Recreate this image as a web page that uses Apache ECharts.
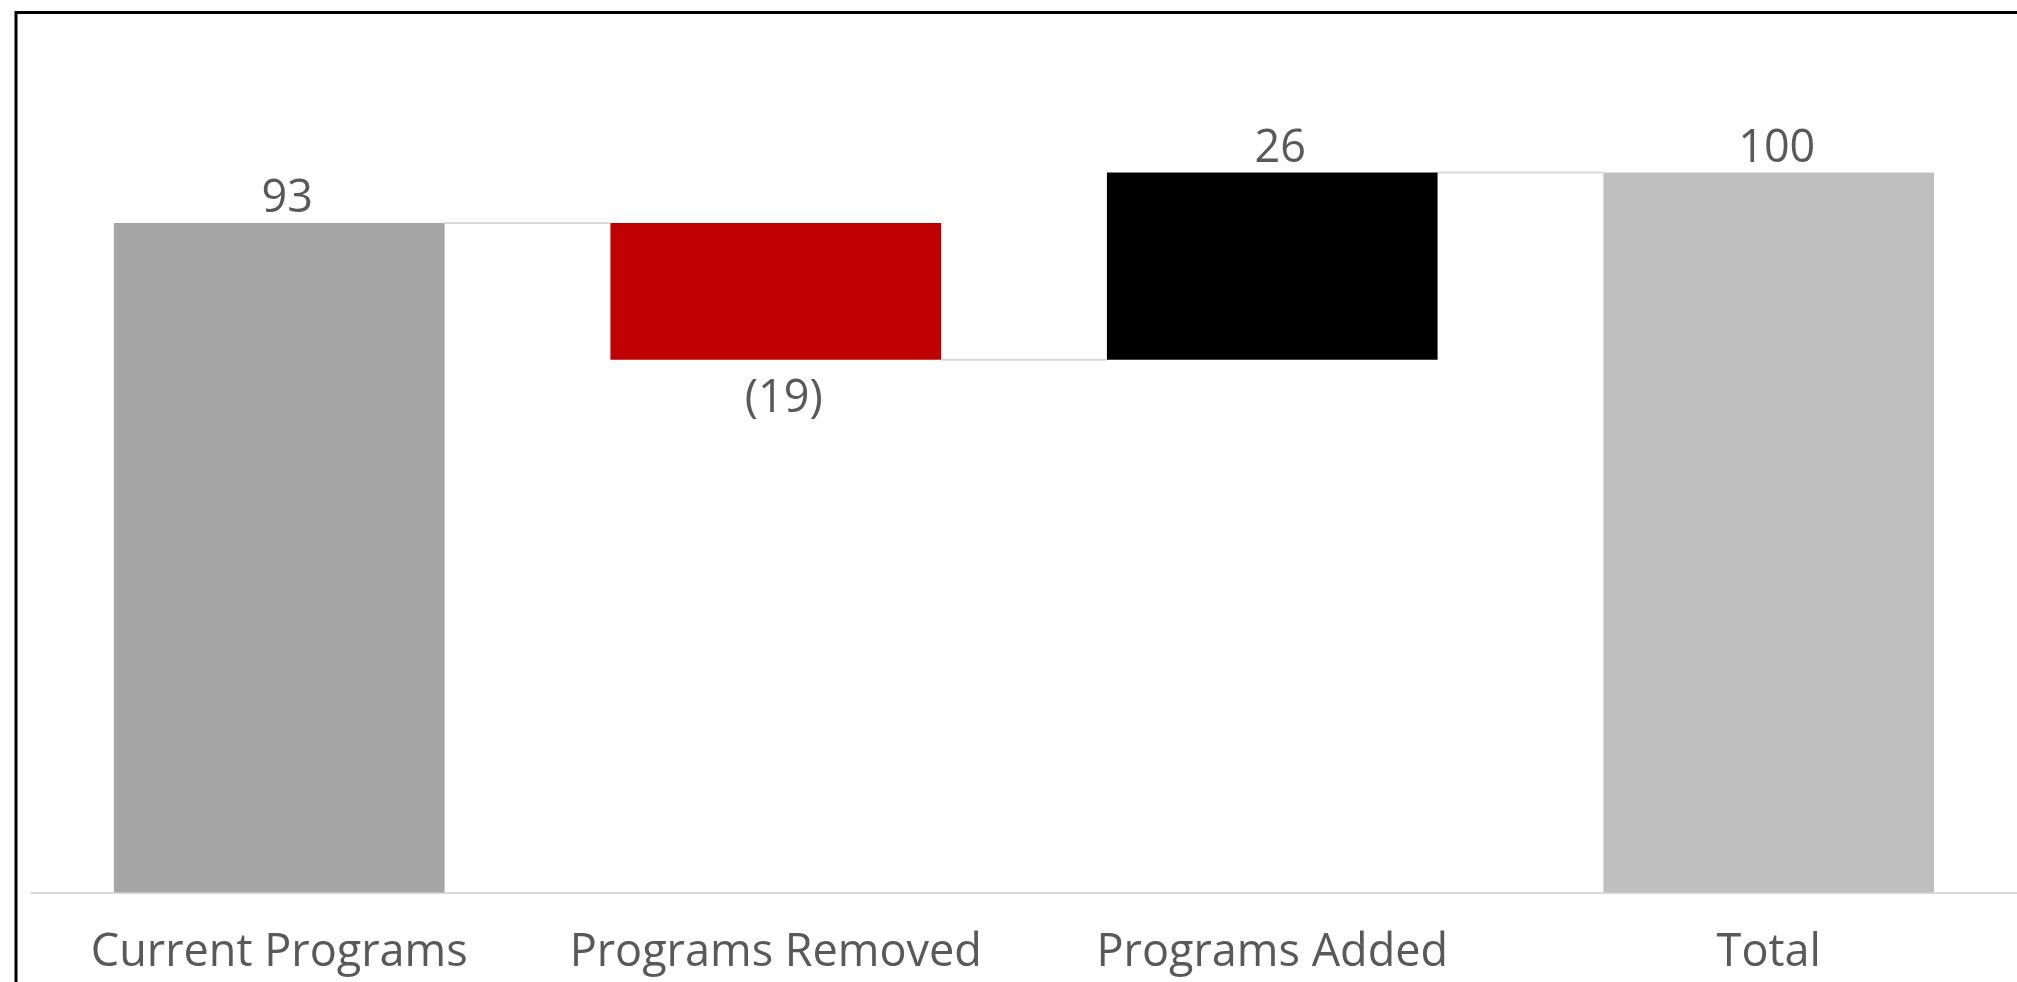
<!DOCTYPE html>
<html>
<head>
<meta charset="utf-8">
<script src="https://cdn.jsdelivr.net/npm/echarts@6/dist/echarts.min.js"></script>
<style>
html,body{margin:0;padding:0;background:#fff;}
#chart{width:2017px;height:982px;}
</style>
</head>
<body>
<div id="chart"></div>
<script>
const categories = ['Current Programs', 'Programs Removed', 'Programs Added', 'Total'];
const deltas = [93, -19, 26, 100];
const isTotal = [true, false, false, true];
const barColors = ['#a6a6a6', '#c00000', '#000000', '#bfbfbf'];

// build waterfall base/value arrays from deltas
const bases = [], heights = [], ends = [];
let running = 0;
deltas.forEach((d, i) => {
  if (isTotal[i]) {
    bases.push(0); heights.push(d); running = d;
  } else if (d >= 0) {
    bases.push(running); heights.push(d); running += d;
  } else {
    bases.push(running + d); heights.push(-d); running += d;
  }
  ends.push(running);
});

const FONT = '"Open Sans", "Noto Sans", sans-serif';
const chart = echarts.init(document.getElementById('chart'));
chart.setOption({
  animation: false,
  graphic: [
    { type: 'line', shape: { x1: 16, y1: 11, x2: 16, y2: 990 }, style: { stroke: '#000', lineWidth: 3 } },
    { type: 'line', shape: { x1: 15, y1: 12.5, x2: 2030, y2: 12.5 }, style: { stroke: '#000', lineWidth: 3 } }
  ],
  grid: { left: 31, right: -1, top: 28.5, bottom: 89.5, containLabel: false },
  xAxis: {
    type: 'category',
    data: categories,
    axisLine: { lineStyle: { color: '#d9d9d9', width: 2 } },
    axisTick: { show: false },
    axisLabel: { color: '#595959', fontSize: 45, fontFamily: FONT, margin: 38, interval: 0 }
  },
  yAxis: {
    type: 'value', min: 0, max: 120, interval: 20,
    show: false,
    splitLine: { show: false }
  },
  series: [
    {
      type: 'bar', stack: 'w', data: bases,
      itemStyle: { color: 'transparent' },
      barCategoryGap: '33.4%', silent: true
    },
    {
      type: 'bar', stack: 'w',
      data: heights.map((h, i) => ({
        value: h,
        itemStyle: { color: barColors[i] },
        label: {
          show: true,
          position: deltas[i] < 0 ? 'bottom' : 'top',
          distance: deltas[i] < 0 ? 17 : 1,
          offset: [8, 0],
          formatter: deltas[i] < 0 ? '(' + (-deltas[i]) + ')' : String(deltas[i]),
          color: '#595959', fontSize: 45, fontFamily: FONT
        }
      })),
      barCategoryGap: '33.4%'
    },
    {
      type: 'custom',
      data: ends.slice(0, ends.length - 1).map((v, i) => [i, v]),
      renderItem: function (params, api) {
        const i = api.value(0);
        const v = api.value(1);
        const p0 = api.coord([i, v]);
        const p1 = api.coord([i + 1, v]);
        const band = api.size([1, 0])[0];
        const half = band * (1 - 0.334) / 2;
        return {
          type: 'line',
          shape: { x1: p0[0] + half, y1: p0[1], x2: p1[0] - half, y2: p1[1] },
          style: { stroke: '#d9d9d9', lineWidth: 2 }
        };
      },
      z: 1
    }
  ]
});
</script>
</body>
</html>
